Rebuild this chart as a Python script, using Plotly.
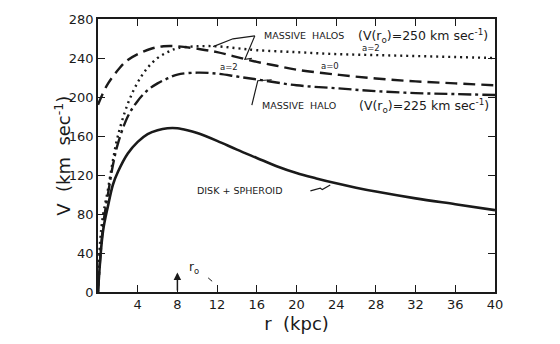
import plotly.graph_objects as go

# ---- data ----
r_disk = [0, 0.5, 1, 1.5, 2, 3, 4, 5, 6, 7, 8, 9, 10, 12, 14, 16, 18, 20, 22, 24, 26, 28, 32, 36, 40]
v_disk = [0, 62, 88, 110, 123, 142, 154, 162, 166, 168, 168, 166, 163, 155, 146, 137.5, 129, 122, 116.5, 111.5, 107, 103, 96, 90, 84]

r_halo0 = [0, 0.9, 2.2, 3, 4.2, 5.5, 6.6, 8, 10.3, 12, 13.6, 16, 18, 20, 24, 28, 32, 36, 40]
v_halo0 = [192, 212, 230, 238, 245, 250, 252, 252, 249, 246, 242, 236, 232, 228, 223, 219, 216, 214, 212]

r_halo2 = [0, 0.2, 0.5, 1, 1.5, 2, 3, 4, 5, 6, 7, 8, 10, 12, 14, 16, 20, 24, 28, 32, 36, 40]
v_halo2 = [0, 50, 78, 105, 135, 160, 193, 215, 230, 240, 246, 250, 252, 252, 250, 248, 246, 244, 243, 242, 241, 240]

r_halo225 = [0, 0.3, 0.6, 1, 1.5, 2, 3, 4, 5, 6, 7, 8, 10, 12, 14, 16, 20, 24, 28, 32, 36, 40]
v_halo225 = [0, 45, 75, 100, 130, 152, 180, 196, 207, 214, 219, 223, 225, 224, 221, 218, 212, 209, 206, 204, 203, 202]

x_ticks = [4, 8, 12, 16, 20, 24, 28, 32, 36, 40]
y_ticks = [0, 40, 80, 120, 160, 200, 240, 280]

FONT = "DejaVu Sans"
INK = "#1a1a1a"

fig = go.Figure()
fig.add_trace(go.Scatter(x=r_disk, y=v_disk, mode="lines", line=dict(color=INK, width=2.6, shape="spline")))
fig.add_trace(go.Scatter(x=r_halo0, y=v_halo0, mode="lines", line=dict(color=INK, width=2.4, dash="12px,6px", shape="spline")))
fig.add_trace(go.Scatter(x=r_halo2, y=v_halo2, mode="lines", line=dict(color=INK, width=2.4, dash="2px,4px", shape="spline")))
fig.add_trace(go.Scatter(x=r_halo225, y=v_halo225, mode="lines", line=dict(color=INK, width=2.4, dash="13px,4px,3px,4px", shape="spline")))

ann = []
def txt(x, y, s, size, anchor="left"):
    ann.append(dict(x=x, y=y, xref="x", yref="y", text=s, showarrow=False, xanchor=anchor, yanchor="middle",
                    font=dict(family=FONT, size=size, color=INK)))

txt(16.5, 263, "MASSIVE  HALOS", 9.5)
txt(26.0, 263, "(V(r<sub>o</sub>)=250 km sec<sup>-1</sup>)", 12.5)
txt(26.4, 250, "a=2", 8.5)
txt(22.3, 232, "a=0", 8.5)
txt(12.1, 231, "a=2", 8.5)
txt(16.3, 191, "MASSIVE  HALO", 9.5)
txt(26.1, 191, "(V(r<sub>o</sub>)=225 km sec<sup>-1</sup>)", 12.5)
txt(9.8, 104, "DISK + SPHEROID", 9.5)
txt(9.0, 25, "r<sub>o</sub>", 12)

# y-axis title
ann.append(dict(x=-0.09, y=0.5, xref="paper", yref="paper", text="V  (km  sec<sup>-1</sup>)", showarrow=False,
                textangle=-90, xanchor="center", yanchor="middle",
                font=dict(family=FONT, size=18, color=INK)))

# r0 arrow
ann.append(dict(x=8, y=20, xref="x", yref="y", ax=8, ay=0, axref="x", ayref="y", showarrow=True,
                arrowhead=2, arrowsize=1, arrowwidth=1.5, arrowcolor=INK, text=""))

shapes = []
def path(pts, w=1.2):
    d = "M " + " L ".join(f"{x},{y}" for x, y in pts)
    shapes.append(dict(type="path", path=d, xref="x", yref="y", line=dict(color=INK, width=w)))

path([(11.6, 251.7), (13.6, 259.7), (15.8, 262.7)])
path([(15.8, 262.7), (14.8, 238.7), (15.5, 239.7)])
path([(15.5, 191.7), (16.1, 216.7), (17.5, 217.7)])
path([(21.4, 103.7), (22.4, 106.5), (22.6, 105.0), (23.4, 109.7)])
path([(11.1, 14.5), (11.5, 11.0)], 1)

fig.update_layout(
    width=560, height=344,
    margin=dict(l=98, r=65, t=12, b=52),
    paper_bgcolor="white", plot_bgcolor="white",
    showlegend=False,
    annotations=ann, shapes=shapes,
    font=dict(family=FONT, color=INK),
)
fig.update_xaxes(range=[0, 40], tickvals=x_ticks, ticktext=[str(t) for t in x_ticks],
                 ticks="inside", ticklen=7, tickwidth=1.2, tickcolor=INK,
                 showline=True, linecolor=INK, linewidth=1.5, mirror="ticks",
                 showgrid=False, zeroline=False,
                 tickfont=dict(family=FONT, size=13, color=INK),
                 title=dict(text="r  (kpc)", font=dict(family=FONT, size=18, color=INK), standoff=6))
fig.update_yaxes(range=[0, 280], tickvals=y_ticks, ticktext=[str(t) for t in y_ticks],
                 ticks="inside", ticklen=7, tickwidth=1.2, tickcolor=INK,
                 showline=True, linecolor=INK, linewidth=1.5, mirror="ticks",
                 showgrid=False, zeroline=False,
                 tickfont=dict(family=FONT, size=13, color=INK))

fig.write_html("out.html")
